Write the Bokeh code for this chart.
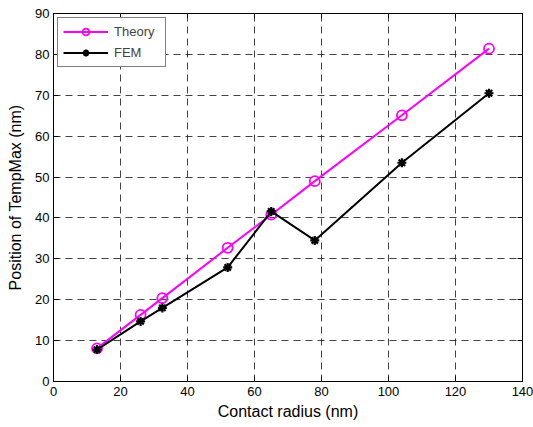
from bokeh.plotting import figure
from bokeh.models import Range1d, LinearAxis, Legend, LegendItem
from bokeh.embed import file_html
from bokeh.resources import INLINE

radius = [13, 26, 32.5, 52, 65, 78, 104, 130]
theory = [8.1, 16.3, 20.4, 32.7, 40.8, 49.0, 65.1, 81.4]
fem = [7.8, 14.7, 18.0, 27.9, 41.6, 34.5, 53.5, 70.5]
x_ticks = [0, 20, 40, 60, 80, 100, 120, 140]
y_ticks = [0, 10, 20, 30, 40, 50, 60, 70, 80, 90]

FONT = "Liberation Sans"

p = figure(width=533, height=427, output_backend="svg", toolbar_location=None,
           x_range=Range1d(0, 140), y_range=Range1d(0, 90),
           min_border_left=53, min_border_right=11, min_border_top=13, min_border_bottom=46)
p.background_fill_color = "white"
p.border_fill_color = "white"
p.outline_line_color = "black"
p.outline_line_width = 1

p.xaxis.ticker = x_ticks
p.yaxis.ticker = y_ticks
for ax in (p.xaxis, p.yaxis):
    ax.major_tick_in = 5
    ax.major_tick_out = 0
    ax.minor_tick_line_color = None
    ax.axis_line_color = "black"
    ax.major_tick_line_color = "black"
    ax.major_label_text_font = FONT
    ax.major_label_text_font_size = "13px"
    ax.major_label_text_color = "black"
    ax.axis_label_text_font = FONT
    ax.axis_label_text_font_size = "16px"
    ax.axis_label_text_font_style = "normal"
    ax.axis_label_text_color = "black"
p.xaxis.major_label_standoff = 5
p.xaxis.axis_label_standoff = 4
p.yaxis.major_label_standoff = 4
p.yaxis.axis_label_standoff = 8
p.xaxis.axis_label = "Contact radius (nm)"
p.yaxis.axis_label = "Position of TempMax (nm)"

top = LinearAxis(ticker=x_ticks, major_tick_in=5, major_tick_out=0, minor_tick_line_color=None,
                 major_label_text_font_size="0px", major_label_text_color=None)
right = LinearAxis(ticker=y_ticks, major_tick_in=5, major_tick_out=0, minor_tick_line_color=None,
                   major_label_text_font_size="0px", major_label_text_color=None)
p.add_layout(top, "above")
p.add_layout(right, "right")

p.grid.grid_line_color = "#222222"
p.grid.grid_line_dash = "7 5"
p.grid.grid_line_width = 1
p.grid.grid_line_alpha = 0.85
p.xgrid.ticker = x_ticks
p.ygrid.ticker = y_ticks

l1 = p.line(radius, theory, line_color="magenta", line_width=2)
m1 = p.scatter(radius, theory, marker="circle", size=10, fill_color="white", fill_alpha=0,
               line_color="magenta", line_width=1.8)
l2 = p.line(radius, fem, line_color="black", line_width=2)
m2 = p.scatter(radius, fem, marker="asterisk", size=9, line_color="black", line_width=2.2)

legend = Legend(items=[LegendItem(label="Theory", renderers=[l1, m1]),
                       LegendItem(label="FEM", renderers=[l2, m2])],
                location="top_left", margin=4, padding=5, spacing=4,
                border_line_color="black", border_line_width=1,
                label_text_font=FONT, label_text_font_size="13px",
                glyph_width=45, label_standoff=6, label_height=17, glyph_height=17,
                label_width=46, background_fill_alpha=1)
p.add_layout(legend, "center")

open("out.html", "w").write(file_html(p, INLINE))
